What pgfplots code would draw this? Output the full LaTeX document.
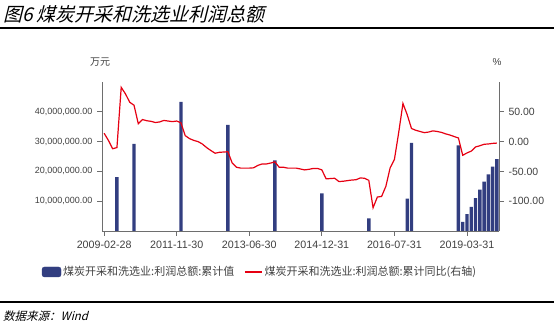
\documentclass[border=0pt]{standalone}
\usepackage{pgfplots}
\pgfplotsset{compat=1.18}
\usepackage{fontspec}
\setmainfont{Liberation Sans}
\newfontfamily\cjk{Noto Sans CJK SC}
\newfontfamily\cjkit{Noto Sans CJK SC}[FakeSlant=0.25]
\definecolor{barblue}{RGB}{50,62,128}
\definecolor{linered}{RGB}{230,0,18}
\definecolor{axgray}{RGB}{110,110,110}
\definecolor{txt}{RGB}{64,64,64}
\begin{document}
\begin{tikzpicture}
\path[use as bounding box] (0pt,0pt) rectangle (554pt,324pt);
\node[anchor=west, inner sep=0] at (3pt,310pt) {\cjkit\fontsize{19}{19}\selectfont 图6\ 煤炭开采和洗选业利润总额};
\draw[line width=2pt] (0pt,296pt) -- (554pt,296pt);
\draw[line width=2pt] (0pt,22pt) -- (554pt,22pt);
\node[anchor=west, inner sep=0] at (3pt,8pt) {\cjkit\fontsize{11.5}{11.5}\selectfont 数据来源：\textit{Wind}};
\node[inner sep=0, text=txt] at (100pt,262pt) {\cjk\fontsize{10}{10}\selectfont 万元};
\node[inner sep=0, text=txt] at (497pt,262pt) {\fontsize{10}{10}\selectfont \%};
\begin{axis}[
  at={(102pt,93pt)}, anchor=south west,
  scale only axis, width=397pt, height=149pt,
  xmin=-0.5, xmax=92.5, ymin=0, ymax=50000000,
  axis x line*=bottom, axis y line*=left,
  axis line style={axgray, line width=0.8pt},
  xtick={0,17,34,51,68,85},
  xticklabels={2009-02-28,2011-11-30,2013-06-30,2014-12-31,2016-07-31,2019-03-31},
  ytick={10000000,20000000,30000000,40000000},
  scaled y ticks=false,
  /pgf/number format/fixed, /pgf/number format/fixed zerofill,
  /pgf/number format/precision=2, /pgf/number format/1000 sep={,},
  /pgf/number format/assume math mode=true,
  tick style={axgray, line width=0.8pt},
  major tick length=5pt,
  tick align=outside,
  x tick label style={font=\fontsize{10.7}{12}\selectfont, text=txt, yshift=-1pt},
  y tick label style={font=\fontsize{9}{11}\selectfont, text=txt, xshift=-1pt},
]
\addplot[ybar, bar width=0.8, fill=barblue, draw=none] coordinates {
(3,18100000) (7,29200000) (18,43300000) (29,35600000) (40,23700000)
(51,12600000) (62,4200000) (71,10900000) (72,29600000) (83,28700000)
(84,3100000) (85,5700000) (86,8100000) (87,11000000) (88,13900000)
(89,16600000) (90,19000000) (91,21600000) (92,24100000)
};
\end{axis}
\begin{axis}[
  at={(102pt,93pt)}, anchor=south west,
  scale only axis, width=397pt, height=149pt,
  xmin=-0.5, xmax=92.5, ymin=-150, ymax=100,
  axis x line=none, axis y line*=right,
  axis line style={axgray, line width=0.8pt},
  ytick={-100,-50,0,50},
  /pgf/number format/fixed, /pgf/number format/fixed zerofill,
  /pgf/number format/precision=2,
  /pgf/number format/assume math mode=true,
  tick style={axgray, line width=0.8pt},
  major tick length=5pt,
  tick align=outside,
  y tick label style={font=\fontsize{10.5}{12}\selectfont, text=txt, xshift=1pt},
  legend style={at={(0.398,-0.275)}, anchor=center, draw=none, fill=none,
    legend columns=2, font=\cjk\fontsize{11}{12}\selectfont, text=txt,
    /tikz/every even column/.append style={column sep=8pt}},
  legend cell align=left,
]
\addlegendimage{legend image code/.code={\fill[barblue, rounded corners=2.5pt] (0pt,-5pt) rectangle (19pt,5pt);}}
\addlegendentry{煤炭开采和洗选业:利润总额:累计值}
\addplot[linered, line width=1.2pt, mark=none] coordinates {
(0,14) (1,2) (2,-12) (3,-10) (4,91) (5,80) (6,66) (7,61) (8,30) (9,37)
(10,35) (11,34) (12,32) (13,33) (14,35.5) (15,34.5) (16,33.5) (17,34.5) (18,31.5) (19,10)
(20,5) (21,2) (22,0) (23,-4) (24,-10) (25,-15) (26,-19.5) (27,-18) (28,-17.5) (29,-17)
(30,-36) (31,-43) (32,-44.5) (33,-44.5) (34,-44.5) (35,-44) (36,-40) (37,-37.5) (38,-37.5) (39,-36)
(40,-34) (41,-43) (42,-43) (43,-44.5) (44,-44.5) (45,-44.5) (46,-46) (47,-47.5) (48,-46.5) (49,-45)
(50,-45) (51,-47.5) (52,-62.5) (53,-62) (54,-61.5) (55,-67) (56,-66.5) (57,-65.5) (58,-64.5) (59,-64)
(60,-61) (61,-61.5) (62,-65) (63,-111) (64,-93) (65,-92) (66,-75) (67,-44) (68,-30) (69,15)
(70,64) (71,45) (72,22) (73,19) (74,17) (75,15) (76,16) (77,18) (78,17) (79,15.5)
(80,13) (81,11) (82,8.5) (83,6) (84,-23) (85,-19) (86,-16) (87,-9) (88,-7) (89,-4.5)
(90,-4) (91,-3) (92,-2.5)
};
\addlegendentry{煤炭开采和洗选业:利润总额:累计同比(右轴)}
\end{axis}
\end{tikzpicture}
\end{document}
